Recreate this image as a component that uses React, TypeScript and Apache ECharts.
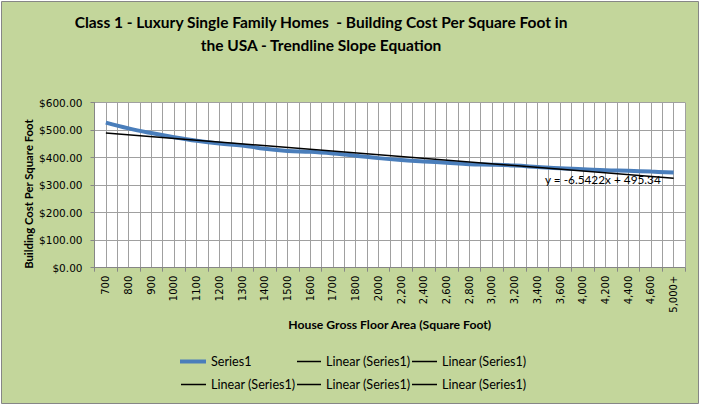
import React, { useEffect, useRef } from "react";
import * as echarts from "echarts";

const categories = [
  "700", "800", "900", "1000", "1100", "1200", "1300", "1400", "1500", "1600",
  "1700", "1800", "2000", "2,200", "2,400", "2,600", "2,800", "3,000", "3,200",
  "3,400", "3,600", "4,000", "4,200", "4,400", "4,600", "5,000+",
];
const series1Values = [
  527, 506, 489, 474, 461, 451, 444, 432, 424, 421, 415, 407, 398, 391, 386,
  381, 376, 374, 371, 366, 361, 358, 354, 352, 349, 346,
];
const trendStartValue = 488.8;
const trendEndValue = 325.24;
const trendEquation = "y = -6.5422x + 495.34";
const yMin = 0;
const yMax = 600;
const yInterval = 100;
const titleLines = [
  "Class 1 - Luxury Single Family Homes  - Building Cost Per Square Foot in",
  "the USA - Trendline Slope Equation",
];
const seriesName = "Series1";
const trendName = "Linear (Series1)";
const xAxisTitle = "House Gross Floor Area (Square Foot)";
const yAxisTitle = "Building Cost Per Square Foot";

const legendSlots = [
  { name: seriesName, left: 180, top: 355, width: 26, thick: 4 },
  { name: trendName, left: 297, top: 355, width: 24, thick: 1.5 },
  { name: trendName, left: 412, top: 355, width: 25, thick: 1.5 },
  { name: trendName, left: 181, top: 378, width: 25, thick: 1.5 },
  { name: trendName, left: 297, top: 378, width: 24, thick: 1.5 },
  { name: trendName, left: 412, top: 378, width: 25, thick: 1.5 },
];

const BLUE = "#4A7EBB";
const GRID = "#A0A0A0";
const AXIS = "#868686";
const BG = "#C3D69B";
const TEXT_FONT = "Lato";
const NUM_FONT = "DejaVu Sans";

export default function App() {
  const ref = useRef<HTMLDivElement>(null);

  useEffect(() => {
    if (!ref.current) return;
    const chart = echarts.init(ref.current, undefined, { renderer: "svg" });
    const legends = legendSlots.map((s) => ({
      data: [s.name],
      left: s.left,
      top: s.top,
      padding: 0,
      icon: "rect",
      itemWidth: s.width,
      itemHeight: s.thick,
      itemGap: 0,
      selectedMode: false,
      textStyle: { fontFamily: TEXT_FONT, fontSize: 12.6, color: "#000" },
    }));

    chart.setOption({
      animation: false,
      backgroundColor: "#ffffff",
      graphic: [
        {
          type: "rect",
          z: -100,
          silent: true,
          shape: { x: 1.5, y: 1.5, width: 697, height: 402 },
          style: { fill: BG, stroke: AXIS, lineWidth: 1 },
        },
        {
          type: "text",
          x: 321,
          y: 22,
          z: 10,
          style: {
            text: titleLines[0],
            textAlign: "center",
            textVerticalAlign: "middle",
            fontFamily: TEXT_FONT,
            fontWeight: "bold",
            fontSize: 15.5,
            fill: "#000",
          },
        },
        {
          type: "text",
          x: 321,
          y: 45,
          z: 10,
          style: {
            text: titleLines[1],
            textAlign: "center",
            textVerticalAlign: "middle",
            fontFamily: TEXT_FONT,
            fontWeight: "bold",
            fontSize: 15.5,
            fill: "#000",
          },
        },
        {
          type: "text",
          x: 545,
          y: 179,
          z: 100,
          style: {
            text: trendEquation,
            textAlign: "left",
            textVerticalAlign: "middle",
            fontFamily: TEXT_FONT,
            fontSize: 11.8,
            fill: "#000",
          },
        },
      ],
      legend: legends,
      grid: {
        left: 94.5,
        right: 16,
        top: 102.5,
        bottom: 138.3,
        show: true,
        backgroundColor: "#ffffff",
        borderWidth: 0,
      },
      xAxis: [
        {
          type: "category",
          data: categories,
          boundaryGap: true,
          axisLine: { show: true, lineStyle: { color: AXIS, width: 1 } },
          axisTick: { show: true, length: 4, lineStyle: { color: AXIS } },
          axisLabel: {
            interval: 0,
            rotate: 90,
            margin: 8,
            fontFamily: NUM_FONT,
            fontSize: 10,
            color: "#000",
          },
          splitLine: { show: false },
          name: xAxisTitle,
          nameLocation: "middle",
          nameGap: 51,
          nameMoveOverlap: false,
          nameTextStyle: {
            fontFamily: TEXT_FONT,
            fontWeight: "bold",
            fontSize: 12.2,
            color: "#000",
          },
        },
        {
          type: "value",
          position: "top",
          min: 0,
          max: categories.length,
          interval: 0.5,
          axisLine: { show: false },
          axisTick: { show: false },
          axisLabel: { show: false },
          splitLine: { show: true, lineStyle: { color: GRID, width: 1 } },
        },
      ],
      yAxis: {
        type: "value",
        min: yMin,
        max: yMax,
        interval: yInterval,
        axisLine: { show: true, lineStyle: { color: AXIS, width: 1 } },
        axisTick: { show: true, length: 4, lineStyle: { color: AXIS } },
        axisLabel: {
          formatter: (v: number) => "$" + v.toFixed(2),
          margin: 12,
          fontFamily: NUM_FONT,
          fontSize: 10.5,
          color: "#000",
        },
        splitLine: { show: true, lineStyle: { color: GRID, width: 1 } },
        name: yAxisTitle,
        nameLocation: "middle",
        nameGap: 61,
        nameMoveOverlap: false,
        nameRotate: 90,
        nameTextStyle: {
          fontFamily: TEXT_FONT,
          fontWeight: "bold",
          fontSize: 11.3,
          color: "#000",
          padding: [0, 18, 0, 0],
        },
      },
      series: [
        {
          name: seriesName,
          type: "line",
          xAxisIndex: 0,
          data: series1Values,
          smooth: 0.4,
          symbol: "none",
          lineStyle: { color: BLUE, width: 4 },
          itemStyle: { color: BLUE },
          z: 2,
        },
        {
          name: trendName,
          type: "line",
          xAxisIndex: 0,
          data: [
            [0, trendStartValue],
            [categories.length - 1, trendEndValue],
          ],
          symbol: "none",
          lineStyle: { color: "#000", width: 1.5 },
          itemStyle: { color: "#000" },
          z: 3,
        },
      ],
    });
    return () => chart.dispose();
  }, []);

  return (
    <div
      ref={ref}
      style={{ position: "fixed", left: 0, top: 0, width: 701, height: 406 }}
    />
  );
}
